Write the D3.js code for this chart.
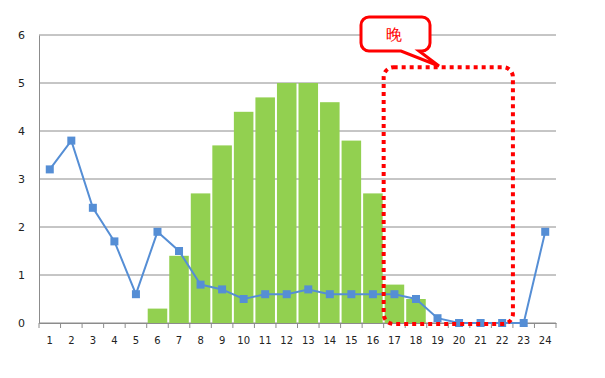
<!DOCTYPE html>
<html>
<head>
<meta charset="utf-8">
<script src="https://cdn.jsdelivr.net/npm/d3@7"></script>
<style>
  body { margin: 0; background: #fff; }
  text { font-family: "DejaVu Sans", Verdana, sans-serif; }
</style>
</head>
<body>
<div id="chart"></div>
<script>
const hours = d3.range(1, 25).map(String);
const barValues = [0, 0, 0, 0, 0, 0.3, 1.4, 2.7, 3.7, 4.4, 4.7, 5, 5, 4.6, 3.8, 2.7, 0.8, 0.5, 0, 0, 0, 0, 0, 0];
const lineValues = [3.2, 3.8, 2.4, 1.7, 0.6, 1.9, 1.5, 0.8, 0.7, 0.5, 0.6, 0.6, 0.7, 0.6, 0.6, 0.6, 0.6, 0.5, 0.1, 0, 0, 0, 0, 1.9];
const yTicks = [0, 1, 2, 3, 4, 5, 6];
const noteLabel = "晚";
const noteHours = ["17", "22"];

const W = 605, H = 378;
const margin = { top: 35, right: 49, bottom: 55, left: 39 };
const width = W - margin.left - margin.right,
      height = H - margin.top - margin.bottom;

const svg = d3.select("#chart").append("svg")
  .attr("width", W).attr("height", H);
const g = svg.append("g").attr("transform", `translate(${margin.left},${margin.top})`);

const xc = d3.scaleBand().domain(hours).range([0, width]);
const y = d3.scaleLinear().domain([0, 6]).range([height, 0]);

// gridlines
g.selectAll(".grid").data(yTicks).enter().append("line")
  .attr("x1", 0).attr("x2", width)
  .attr("y1", d => y(d)).attr("y2", d => y(d))
  .attr("stroke", "#8c8c8c").attr("stroke-width", 1);

// y axis
const yAxis = g.append("g").call(d3.axisLeft(y).tickValues(yTicks).tickFormat(d3.format("d")).tickSize(0).tickPadding(14));
yAxis.select(".domain").attr("stroke", "#8c8c8c");
yAxis.selectAll("text").attr("font-size", 11).attr("fill", "#222");

// bars
g.selectAll(".bar").data(barValues.map((v, i) => ({ h: hours[i], v })).filter(d => d.v > 0))
  .enter().append("rect")
  .attr("x", d => xc(d.h) + 1)
  .attr("y", d => y(d.v))
  .attr("width", xc.bandwidth() - 2)
  .attr("height", d => height - y(d.v))
  .attr("fill", "#92d050");

// x axis
const xAxis = g.append("g").attr("transform", `translate(0,${height})`)
  .call(d3.axisBottom(xc).tickSize(0).tickPadding(14));
xAxis.select(".domain").attr("stroke", "#8c8c8c");
xAxis.selectAll("text").attr("font-size", 10).attr("fill", "#222");
g.selectAll(".xtick").data(d3.range(hours.length + 1)).enter().append("line")
  .attr("x1", i => i * xc.step()).attr("x2", i => i * xc.step())
  .attr("y1", height).attr("y2", height + 5)
  .attr("stroke", "#8c8c8c");

// line series
const pts = lineValues.map((v, i) => ({ h: hours[i], v }));
const cx = d => xc(d.h) + xc.bandwidth() / 2;
g.append("path").datum(pts)
  .attr("fill", "none").attr("stroke", "#558ed5").attr("stroke-width", 2)
  .attr("d", d3.line().x(cx).y(d => y(d.v)));
g.selectAll(".mk").data(pts).enter().append("rect")
  .attr("x", d => cx(d) - 4).attr("y", d => y(d.v) - 4)
  .attr("width", 8).attr("height", 8)
  .attr("fill", "#558ed5");

// annotation box
const bx0 = xc(noteHours[0]), bx1 = xc(noteHours[1]) + xc.step();
const by0 = y(5.33), by1 = y(-0.02);
g.append("rect")
  .attr("x", bx0).attr("y", by0)
  .attr("width", bx1 - bx0).attr("height", by1 - by0)
  .attr("rx", 10).attr("ry", 10)
  .attr("fill", "none").attr("stroke", "#ff0000")
  .attr("stroke-width", 4).attr("stroke-dasharray", "4,4");

// callout
const cx0 = 361 - margin.left, cy0 = 17 - margin.top, cw = 69, ch = 34, r = 8;
const tipX = 439 - margin.left, tipY = 66 - margin.top;
const callout = d3.path();
callout.moveTo(cx0 + r, cy0);
callout.lineTo(cx0 + cw - r, cy0);
callout.arcTo(cx0 + cw, cy0, cx0 + cw, cy0 + r, r);
callout.lineTo(cx0 + cw, cy0 + ch - r);
callout.arcTo(cx0 + cw, cy0 + ch, cx0 + cw - r, cy0 + ch, r);
callout.lineTo(cx0 + 58, cy0 + ch);
callout.lineTo(tipX, tipY);
callout.lineTo(cx0 + 40, cy0 + ch);
callout.lineTo(cx0 + r, cy0 + ch);
callout.arcTo(cx0, cy0 + ch, cx0, cy0 + ch - r, r);
callout.lineTo(cx0, cy0 + r);
callout.arcTo(cx0, cy0, cx0 + r, cy0, r);
callout.closePath();
g.append("path").attr("d", callout.toString())
  .attr("fill", "#fff").attr("stroke", "#ff0000").attr("stroke-width", 3);
g.append("text")
  .attr("x", cx0 + cw / 2 - 2).attr("y", cy0 + ch / 2 + 6)
  .attr("text-anchor", "middle")
  .attr("font-family", "Noto Sans CJK SC").attr("font-size", 16)
  .attr("fill", "#ff0000").text(noteLabel);
</script>
</body>
</html>
